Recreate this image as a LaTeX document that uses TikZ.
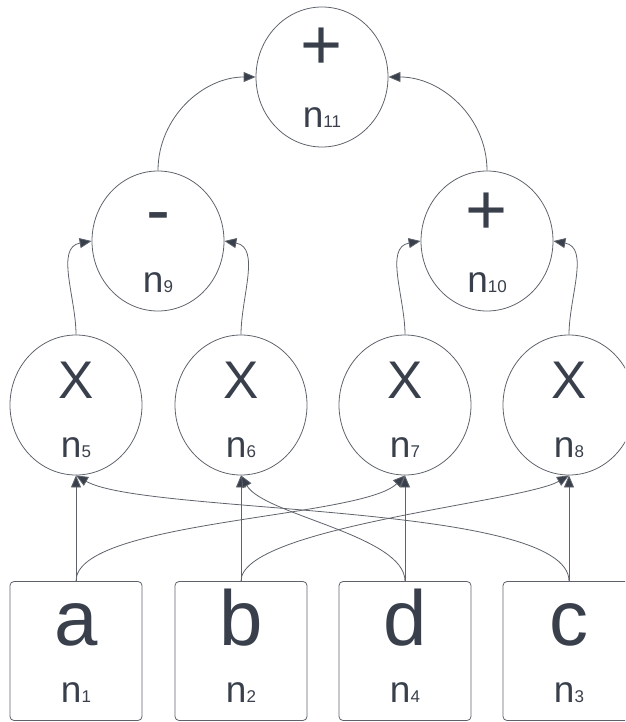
\documentclass[tikz,border=0pt]{standalone}
\usepackage{fontspec}
\setmainfont{Liberation Sans}
\usetikzlibrary{shapes.geometric,arrows.meta}

\definecolor{edgegray}{HTML}{5E636B}
\definecolor{inkdark}{HTML}{39404C}
\newcommand{\nsub}[1]{{\fontsize{17}{17}\selectfont #1}}

\tikzset{
  opnode/.style={ellipse, draw=edgegray, line width=0.8pt, minimum width=132pt, minimum height=140pt, inner sep=0pt},
  varbox/.style={rectangle, rounded corners=4pt, draw=edgegray, line width=0.8pt, minimum width=132pt, minimum height=139pt, inner sep=0pt},
  optext/.style={anchor=base, text=inkdark, font=\fontsize{72}{72}\selectfont, inner sep=0pt},
  multext/.style={anchor=base, text=inkdark, font=\fontsize{53}{53}\selectfont, inner sep=0pt},
  vartext/.style={anchor=base, text=inkdark, font=\fontsize{78}{78}\selectfont, inner sep=0pt},
  idtext/.style={anchor=base, text=inkdark, font=\fontsize{37}{37}\selectfont, inner sep=0pt},
  flow/.style={draw=edgegray, line width=0.8pt, -{Triangle[length=12pt,width=10pt,fill=inkdark]}},
  cross/.style={flow, looseness=0.4},
}

\begin{document}
\begin{tikzpicture}[x=1pt,y=1pt]
  \useasboundingbox (0,0) rectangle (625,-722);
  \clip (0,0) rectangle (625,-722);

  % inputs
  \foreach \name/\xpos/\idx in {a/76/1, b/241/2, d/405/4, c/569/3} {
    \node[varbox] (\name) at (\xpos,-651) {};
    \node[vartext] (\name sym) at ([yshift=6]\name.center) {\name};
    \node[idtext] (\name lab) at ([yshift=-51]\name.center) {n\nsub{\idx}};
  }

  % products
  \foreach \idx/\xpos in {5/76, 6/241, 7/405, 8/569} {
    \node[opnode] (n\idx) at (\xpos,-405) {};
    \node[multext] (n\idx sym) at ([yshift=7]n\idx.center) {X};
    \node[idtext] (n\idx lab) at ([yshift=-52]n\idx.center) {n\nsub{\idx}};
  }

  % sums
  \node[opnode] (n9) at (158,-241) {};
  \node[optext] (n9sym) at ([yshift=7]n9.center) {-};
  \node[idtext] (n9lab) at ([yshift=-51]n9.center) {n\nsub{9}};

  \node[opnode] (n10) at (487,-241) {};
  \node[optext] (n10sym) at ([yshift=7]n10.center) {+};
  \node[idtext] (n10lab) at ([yshift=-51]n10.center) {n\nsub{10}};

  \node[opnode] (n11) at (322,-77) {};
  \node[optext] (n11sym) at ([yshift=7]n11.center) {+};
  \node[idtext] (n11lab) at ([yshift=-51]n11.center) {n\nsub{11}};

  % straight inputs
  \draw[flow] (a) -- (n5);
  \draw[flow] (b) -- (n6);
  \draw[flow] (d) -- (n7);
  \draw[flow] (c) -- (n8);

  % crossing inputs
  \draw[cross] (a.north) to[out=90,in=-135,looseness=0.45] (n7.south);
  \draw[cross] (b.north) to[out=90,in=-150] (n8.south);
  \draw[cross] (d.north) to[out=90,in=-60,looseness=0.6] (n6.south);
  \draw[cross] (c.north) to[out=90,in=-30] (n5.south);

  % upper levels
  \draw[flow] (n5.north) to[out=90,in=190] (n9.west);
  \draw[flow] (n6.north) to[out=90,in=-10] (n9.east);
  \draw[flow] (n7.north) to[out=90,in=190] (n10.west);
  \draw[flow] (n8.north) to[out=90,in=-10] (n10.east);
  \draw[flow] (n9.north) to[out=90,in=180] (n11.west);
  \draw[flow] (n10.north) to[out=90,in=0] (n11.east);
\end{tikzpicture}
\end{document}
